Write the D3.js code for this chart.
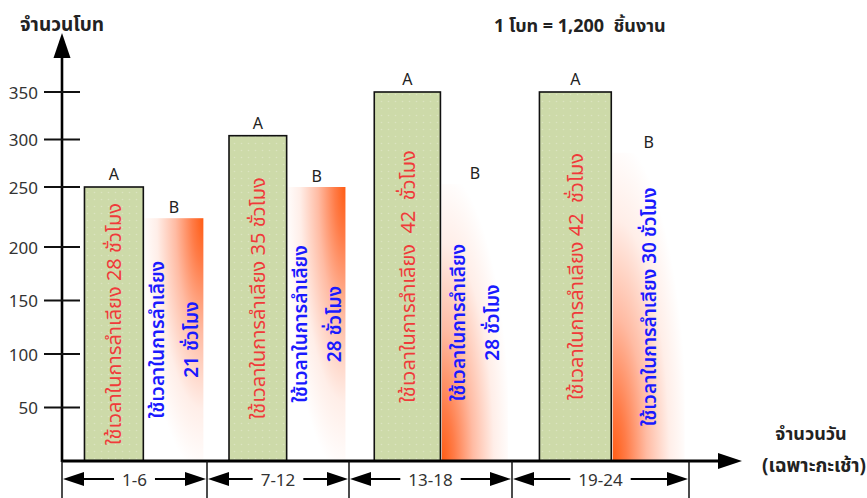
<!DOCTYPE html>
<html><head><meta charset="utf-8">
<script src="https://cdn.jsdelivr.net/npm/d3@7"></script>
<style>
html,body{margin:0;padding:0;background:#fff;}
svg{display:block;font-family:"Noto Sans","Noto Sans Thai","Leelawadee UI",Tahoma,sans-serif;}
text{white-space:pre;}
</style></head>
<body>
<svg id="c" width="867" height="498"></svg>
<script>
// ---- data ----
const groups = ["1-6", "7-12", "13-18", "19-24"];
const dayEdges = [0, 6, 12, 18, 24];
const valuesA = [250, 304, 350, 350];
const valuesB = [224, 250, 253, 286];
const labelA = ["ใช้เวลาในการลำเลียง 28 ชั่วโมง", "ใช้เวลาในการลำเลียง 35 ชั่วโมง", "ใช้เวลาในการลำเลียง  42  ชั่วโมง", "ใช้เวลาในการลำเลียง 42  ชั่วโมง"];
const labelB = [["ใช้เวลาในการลำเลียง", "21 ชั่วโมง"], ["ใช้เวลาในการลำเลียง", "28 ชั่วโมง"], ["ใช้เวลาในการลำเลียง", "28 ชั่วโมง"], ["ใช้เวลาในการลำเลียง 30 ชั่วโมง"]];
const yTicks = [50, 100, 150, 200, 250, 300, 350];
const yTitle = "จำนวนโบท";
const note = "1 โบท = 1,200  ชิ้นงาน";
const xTitle = ["จำนวนวัน", "(เฉพาะกะเช้า)"];

// ---- scales ----
const svg = d3.select("#c");
const x = d3.scaleLinear().domain(dayEdges).range([62, 207, 349, 512, 689]);
const y = d3.scaleLinear().domain([0, 200, 250, 350]).range([461, 247, 187, 92]);
const inner = d3.scaleBand().domain(["A", "B"]).range([0.155, 0.975]).paddingInner(0.02);

const defs = svg.append("defs");
const pat = defs.append("pattern").attr("id", "dots").attr("patternUnits", "userSpaceOnUse")
  .attr("width", 7).attr("height", 7);
pat.append("rect").attr("width", 7).attr("height", 7).attr("fill", "#cddaa9");
pat.append("circle").attr("cx", 3.5).attr("cy", 3.5).attr("r", 0.8).attr("fill", "#dbe4c0");

function radial(id, cx, cy) {
  const g = defs.append("radialGradient").attr("id", id)
    .attr("cx", cx).attr("cy", cy).attr("fx", cx).attr("fy", cy).attr("r", 1.05);
  [[0, "#ff5c14"], [0.18, "#ff7c48"], [0.45, "#ffbba3"], [0.75, "#ffeee8"], [1, "#ffffff"]]
    .forEach(([o, c]) => g.append("stop").attr("offset", o).attr("stop-color", c));
}
radial("gTop", 1, 0);
radial("gBot", 0, 1);

const gx0 = i => x(dayEdges[i]);
const gw = i => x(dayEdges[i + 1]) - x(dayEdges[i]);
const bx = (i, k) => gx0(i) + inner(k) * gw(i);
const bw = i => inner.bandwidth() * gw(i);

// ---- B bars ----
groups.forEach((g, i) => {
  svg.append("rect").attr("x", bx(i, "B")).attr("y", y(valuesB[i]))
    .attr("width", bw(i)).attr("height", y(0) - y(valuesB[i]))
    .attr("fill", i < 2 ? "url(#gTop)" : "url(#gBot)");
});
// ---- A bars ----
groups.forEach((g, i) => {
  svg.append("rect").attr("x", bx(i, "A")).attr("y", y(valuesA[i]))
    .attr("width", bw(i)).attr("height", y(0) - y(valuesA[i]))
    .attr("fill", "url(#dots)").attr("stroke", "#111").attr("stroke-width", 1.6);
});

// ---- bar letters ----
groups.forEach((g, i) => {
  svg.append("text").attr("x", bx(i, "A") + bw(i) / 2).attr("y", y(valuesA[i]) - 7)
    .attr("text-anchor", "middle").attr("font-size", 16).attr("fill", "#222").text("A");
  svg.append("text").attr("x", bx(i, "B") + bw(i) / 2).attr("y", y(valuesB[i]) - 5)
    .attr("text-anchor", "middle").attr("font-size", 16).attr("fill", "#222").text("B");
});

// ---- rotated texts ----
groups.forEach((g, i) => {
  const ax = bx(i, "A") + bw(i) / 2, ay = (y(valuesA[i]) + y(0)) / 2;
  svg.append("text").attr("transform", `translate(${ax},${ay}) rotate(-90)`)
    .attr("text-anchor", "middle").attr("dominant-baseline", "central")
    .attr("font-size", 20).attr("fill", "#f03a3a").text(labelA[i]);
  const cx = bx(i, "B") + bw(i) / 2, cy = (y(valuesB[i]) + y(0)) / 2;
  const lines = labelB[i];
  lines.forEach((t, j) => {
    const off = (j - (lines.length - 1) / 2) * 34;
    svg.append("text").attr("transform", `translate(${cx + off},${cy}) rotate(-90)`)
      .attr("text-anchor", "middle").attr("dominant-baseline", "central")
      .attr("font-size", 19).attr("font-weight", 600).attr("fill", "#1a1aff").text(t);
  });
});

// ---- axes ----
const ax = svg.append("g");
ax.append("line").attr("x1", x(0)).attr("x2", x(0)).attr("y1", y(0) + 1).attr("y2", 52)
  .attr("stroke", "#000").attr("stroke-width", 2.6);
ax.append("path").attr("d", `M${x(0)},33 L${x(0) - 8.5},58 L${x(0) + 8.5},58 Z`).attr("fill", "#000");
ax.append("line").attr("x1", x(0)).attr("x2", 722).attr("y1", y(0)).attr("y2", y(0))
  .attr("stroke", "#000").attr("stroke-width", 3);
ax.append("path").attr("d", `M742,${y(0)} L718,${y(0) - 8} L718,${y(0) + 8} Z`).attr("fill", "#000");

yTicks.forEach(v => {
  ax.append("line").attr("x1", 44).attr("x2", 80).attr("y1", y(v)).attr("y2", y(v))
    .attr("stroke", "#111").attr("stroke-width", 2);
  ax.append("text").attr("x", 38).attr("y", y(v)).attr("text-anchor", "end")
    .attr("dominant-baseline", "central").attr("font-size", 17).attr("fill", "#333").text(v);
});

// ---- x dimension brackets ----
const ay = 479;
dayEdges.forEach(d => {
  ax.append("line").attr("x1", x(d)).attr("x2", x(d)).attr("y1", y(0)).attr("y2", 498)
    .attr("stroke", "#111").attr("stroke-width", 1.5);
});
groups.forEach((g, i) => {
  const l = x(dayEdges[i]), r = x(dayEdges[i + 1]), m = (l + r) / 2;
  const t = ax.append("text").attr("x", m).attr("y", ay).attr("text-anchor", "middle")
    .attr("dominant-baseline", "central").attr("font-size", 17).attr("fill", "#333").text(g);
  const hw = t.node().getComputedTextLength() / 2 + 8;
  ax.append("path").attr("d", `M${l + 1},${ay} L${l + 22},${ay - 7} L${l + 22},${ay + 7} Z`).attr("fill", "#000");
  ax.append("path").attr("d", `M${r - 1},${ay} L${r - 22},${ay - 7} L${r - 22},${ay + 7} Z`).attr("fill", "#000");
  ax.append("line").attr("x1", l + 20).attr("x2", m - hw).attr("y1", ay).attr("y2", ay).attr("stroke", "#000").attr("stroke-width", 2);
  ax.append("line").attr("x1", m + hw).attr("x2", r - 20).attr("y1", ay).attr("y2", ay).attr("stroke", "#000").attr("stroke-width", 2);
});

// ---- titles ----
svg.append("text").attr("x", 20).attr("y", 31).attr("font-size", 19).attr("font-weight", 700)
  .attr("fill", "#222").text(yTitle);
svg.append("text").attr("x", 494).attr("y", 32).attr("font-size", 18).attr("font-weight", 700)
  .attr("fill", "#222").text(note);
svg.append("text").attr("x", 811).attr("y", 440).attr("text-anchor", "middle").attr("font-size", 18)
  .attr("font-weight", 700).attr("fill", "#222").text(xTitle[0]);
svg.append("text").attr("x", 814).attr("y", 472).attr("text-anchor", "middle").attr("font-size", 19)
  .attr("font-weight", 700).attr("fill", "#222").text(xTitle[1]);
</script>
</body></html>
